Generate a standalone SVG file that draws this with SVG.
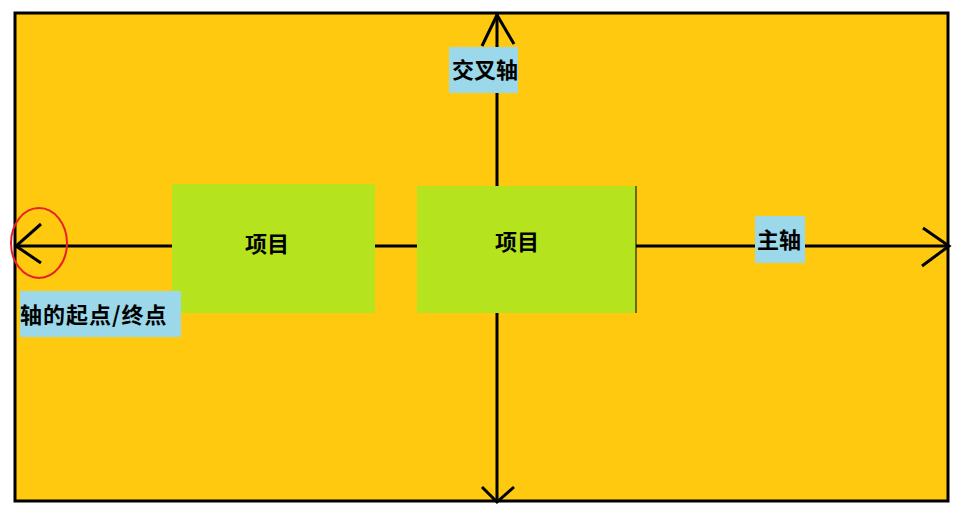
<svg xmlns="http://www.w3.org/2000/svg" width="970" height="522" viewBox="0 0 970 522">
<style>
.ax{stroke:#000;stroke-width:3;fill:none}
.item{fill:#b5e31d}
.lbl{fill:#9bd8ea}
text{font-family:"Noto Sans CJK SC","Microsoft YaHei",sans-serif;font-weight:bold;font-size:22px;fill:#000}
</style>
<rect width="970" height="522" fill="#fff"/>
<rect x="15" y="13" width="933" height="488" fill="#fec90f" stroke="#000" stroke-width="3"/>
<g id="connectors">
<line class="ax" x1="16" y1="246" x2="948" y2="246"/>
<line class="ax" x1="497" y1="14" x2="497" y2="502"/>
<polyline class="ax" points="41,224 16,246 41,263"/>
<polyline class="ax" points="923,228 949,246 922,266"/>
<polyline class="ax" points="482,46 497,15 514,44"/>
<polyline class="ax" points="482,487 497,502 514,487"/>
</g>
<g id="item1"><rect class="item" x="172" y="184" width="203" height="129"/><text x="267" y="252" text-anchor="middle">项目</text></g>
<g id="item2"><rect class="item" x="417" y="186" width="219" height="127"/><line x1="636" y1="186" x2="636" y2="313" stroke="#000" stroke-width="1"/><text x="517" y="250" text-anchor="middle">项目</text></g>
<g id="cross"><rect class="lbl" x="449" y="47" width="69" height="46"/><text x="485" y="78" text-anchor="middle">交叉轴</text></g>
<g id="main"><rect class="lbl" x="755" y="216" width="50" height="47"/><text x="779" y="248" text-anchor="middle">主轴</text></g>
<g id="startend"><rect class="lbl" x="20" y="291" width="161" height="46"/><text x="20" y="323" letter-spacing="1">轴的起点/终点</text></g>
<ellipse cx="39" cy="243" rx="28" ry="35" fill="none" stroke="#e8202a" stroke-width="2"/>
</svg>
